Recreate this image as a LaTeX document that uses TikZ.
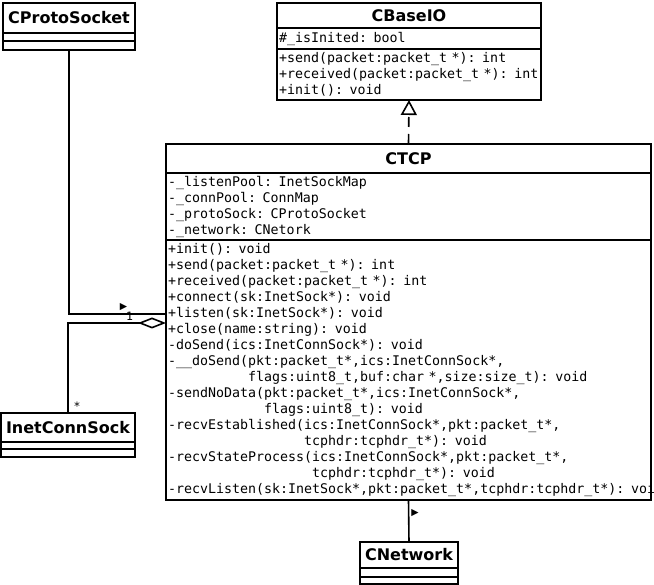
\documentclass[tikz,border=0pt]{standalone}
\usepackage{fontspec}
\setmainfont{DejaVu Sans}
\setsansfont{DejaVu Sans}
\setmonofont{DejaVu Sans Mono}
\usepackage{tikz}
\usetikzlibrary{positioning,arrows.meta,calc}
\tikzset{
    classname/.style = {
        draw,
        shape=rectangle,
        inner sep=0pt,
        outer sep=0pt,
        line width=1.6pt,
        font=\fontsize{16}{18}\selectfont\sffamily\bfseries
    },
    members/.style = {
        draw,
        shape=rectangle,
        inner xsep=2pt,
        inner ysep=0pt,
        outer sep=0pt,
        line width=1.6pt,
        align=left,
        font=\fontsize{13.3}{16}\selectfont\ttfamily
    },
    emptypart/.style = {
        draw,
        shape=rectangle,
        inner sep=0pt,
        outer sep=0pt,
        line width=1.6pt
    },
    assoc/.style = {
        line width=1.6pt
    },
    inherit/.style = {
        line width=1.6pt,
        dash pattern=on 10pt off 7pt,
        -{Triangle[open, length=15pt, width=16pt, line width=1.6pt]}
    },
    aggregation/.style = {
        line width=1.6pt,
        -{Diamond[open, length=28pt, width=11pt, line width=1.6pt]}
    },
    multiplicity/.style = {
        inner sep=0pt,
        font=\fontsize{11.5}{13}\selectfont\ttfamily
    },
    direction/.style = {
        inner sep=0pt,
        font=\fontsize{9.5}{10}\selectfont
    },
}

\begin{document}
\begin{tikzpicture}[x=1pt, y=-1pt]
            \useasboundingbox (0,0) rectangle (654,585);

            % classes
            \node[classname, minimum width=132pt, minimum height=30pt, anchor=north west] (protoname) at (3,3) {CProtoSocket};
            \node[emptypart, minimum width=132pt, minimum height=8pt, below=0pt of protoname] (protoattr) {};
            \node[emptypart, minimum width=132pt, minimum height=9pt, below=0pt of protoattr] (protoops) {};

            \node[classname, minimum width=264pt, minimum height=25pt, anchor=north west] (basename) at (277,3) {CBaseIO};
            \node[members, text width=260pt, minimum height=21pt, below=0pt of basename] (baseattr) {\#\_isInited: bool};
            \node[members, text width=260pt, minimum height=51pt, below=0pt of baseattr] (baseops) {+send(packet:packet\_t *): int\\
\mbox{+received(packet:packet\_t *): int}\\
+init(): void};

            \node[classname, minimum width=485pt, minimum height=29pt, anchor=north west] (ctcpname) at (166,144) {CTCP};
            \node[members, text width=481pt, minimum height=67pt, below=0pt of ctcpname] (ctcpattr) {-\_listenPool: InetSockMap\\
-\_connPool: ConnMap\\
-\_protoSock: CProtoSocket\\
-\_network: CNetork};
            \node[members, text width=481pt, minimum height=260pt, below=0pt of ctcpattr] (ctcpops) {+init(): void\\
+send(packet:packet\_t *): int\\
+received(packet:packet\_t *): int\\
+connect(sk:InetSock*): void\\
+listen(sk:InetSock*): void\\
+close(name:string): void\\
-doSend(ics:InetConnSock*): void\\
-\_\_doSend(pkt:packet\_t*,ics:InetConnSock*,\\
\phantom{-\_\_doSend(}flags:uint8\_t,buf:char *,size:size\_t): void\\
-sendNoData(pkt:packet\_t*,ics:InetConnSock*,\\
\phantom{-sendNoData(}flags:uint8\_t): void\\
-recvEstablished(ics:InetConnSock*,pkt:packet\_t*,\\
\phantom{-recvEstablished(}tcphdr:tcphdr\_t*): void\\
-recvStateProcess(ics:InetConnSock*,pkt:packet\_t*,\\
\phantom{-recvStateProcess(}tcphdr:tcphdr\_t*): void\\
\mbox{-recvListen(sk:InetSock*,pkt:packet\_t*,tcphdr:tcphdr\_t*): void}};

            \node[classname, minimum width=134pt, minimum height=29pt, anchor=north west] (icsname) at (1,413) {InetConnSock};
            \node[emptypart, minimum width=134pt, minimum height=7pt, below=0pt of icsname] (icsattr) {};
            \node[emptypart, minimum width=134pt, minimum height=8pt, below=0pt of icsattr] (icsops) {};

            \node[classname, minimum width=98pt, minimum height=26pt, anchor=north west] (netname) at (360,542) {CNetwork};
            \node[emptypart, minimum width=98pt, minimum height=9pt, below=0pt of netname] (netattr) {};
            \node[emptypart, minimum width=98pt, minimum height=7pt, below=0pt of netattr] (netops) {};

            % relations
            \coordinate (protoend) at (166,314);
            \coordinate (aggend) at (166,323);

            \path[draw, inherit] (ctcpname.north) -- (baseops.south);
            \path[draw, assoc] (protoops.south) |- (protoend);
            \path[draw, aggregation] (icsname.north) |- (aggend);
            \path[draw, assoc] (ctcpops.south) -- (netname.north);

            \node[direction] (protodir) at (123.5,307.5) {▶};
            \node[multiplicity] (protomult) at (129.5,316) {1};
            \node[multiplicity] (icsmult) at (77,406) {*};
            \node[direction] (netdir) at (415,513) {▶};

        \end{tikzpicture}
\end{document}
